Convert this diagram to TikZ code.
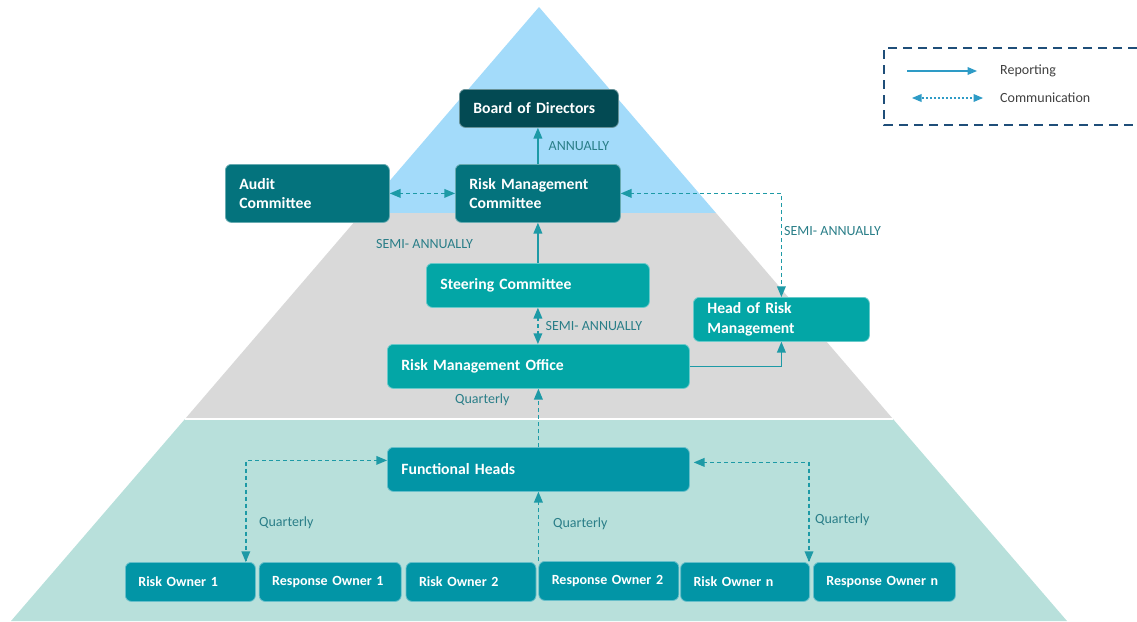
\documentclass[tikz,border=0pt]{standalone}
\usepackage{fontspec}
\setmainfont{Carlito}
\usepackage{tikz}
\usetikzlibrary{arrows, positioning}
\definecolor{skyband}{HTML}{A3DBFA}
\definecolor{greyband}{HTML}{D9D9D9}
\definecolor{mintband}{HTML}{B8E0DB}
\definecolor{boardcol}{HTML}{034A53}
\definecolor{commcol}{HTML}{04737D}
\definecolor{officecol}{HTML}{03A6A6}
\definecolor{ownercol}{HTML}{0295A6}
\definecolor{linkcol}{HTML}{1D9AA6}
\definecolor{freqcol}{HTML}{2A7E88}
\definecolor{keyframe}{HTML}{1F4E79}
\definecolor{keyline}{HTML}{2E9BC6}
\tikzstyle{box} = [rectangle, rounded corners=6pt, text=white, align=left,
    inner xsep=14pt, inner ysep=0pt, anchor=north west, line width=0.8pt,
    font=\bfseries\fontsize{15.7}{19.5}\selectfont]
\tikzstyle{boardbox} = [box, fill=boardcol, draw=boardcol!60!white]
\tikzstyle{commbox} = [box, fill=commcol, draw=commcol!60!white]
\tikzstyle{officebox} = [box, fill=officecol, draw=officecol!60!white, minimum height=44pt]
\tikzstyle{funcbox} = [box, fill=ownercol, draw=ownercol!60!white, minimum height=44pt]
\tikzstyle{ownerbox} = [funcbox, minimum height=39pt, inner xsep=13pt,
    font=\bfseries\fontsize{14}{17}\selectfont]
\tikzstyle{freq} = [text=freqcol, inner sep=0pt, font=\fontsize{14}{16}\selectfont]
\tikzstyle{report} = [line width=1.5pt, draw=linkcol, ->, >=triangle 45]
\tikzstyle{comm} = [line width=1.5pt, draw=linkcol, dash pattern=on 4pt off 3pt, <->, >=triangle 45]
\tikzstyle{commone} = [comm, ->]
\tikzstyle{keytext} = [anchor=west, inner sep=0pt, text=black!75, font=\fontsize{14}{16}\selectfont]

\begin{document}
\begin{tikzpicture}[x=1pt, y=-1pt]
            \useasboundingbox (0,0) rectangle (1137,621);
            % pyramid
            \fill [skyband] (539,7) -- (716,213) -- (362,213) -- cycle;
            \fill [greyband] (362,213) -- (716,213) -- (893,419) -- (185,419) -- cycle;
            \fill [mintband] (185,419) -- (893,419) -- (1067,621) -- (11,621) -- cycle;
            \draw [white, line width=1.5pt] (185,419) -- (893,419);

            \node (bod) [boardbox, text width=131pt, minimum height=38pt] at (459,89) {Board of Directors};
            \node (audit) [commbox, text width=136pt, minimum height=58pt] at (225,164) {Audit\\Committee};
            \node (rmc) [commbox, text width=137pt, minimum height=58pt] at (455,164) {Risk Management\\Committee};
            \node (steer) [officebox, text width=195pt] at (426,263) {Steering Committee};
            \node (head) [officebox, text width=148pt] at (693,297) {Head of Risk\\Management};
            \node (rmo) [officebox, text width=274pt] at (387,344) {Risk Management Office};
            \node (fh) [funcbox, text width=274pt] at (387,447) {Functional Heads};

            \node (ro1) [ownerbox, text width=104pt] at (125,562) {Risk Owner 1};
            \node (rs1) [ownerbox, text width=116pt, right=3pt of ro1] {Response Owner 1};
            \node (ro2) [ownerbox, text width=104pt, right=4pt of rs1] {Risk Owner 2};
            \node (rs2) [ownerbox, text width=114pt, right=2pt of ro2, yshift=1pt] {Response Owner 2};
            \node (ron) [ownerbox, text width=103pt, right=1pt of rs2, yshift=-1pt] {Risk Owner n};
            \node (rsn) [ownerbox, text width=116pt, right=3pt of ron] {Response Owner n};

            \draw [report] (rmc.north) -- (rmc.north |- bod.south) node[midway, right, freq, xshift=10pt] {ANNUALLY};
            \draw [comm] (audit.east) -- (rmc.west);
            \draw [comm] (rmc.east) -| (head.north);
            \draw [report] (steer.north) -- (rmc.south);
            \draw [comm] (steer.south) -- (steer.south |- rmo.north) node[midway, right, freq, xshift=7pt] {SEMI- ANNUALLY};
            \draw [report] (rmo.east) -| (head.south);
            \draw [commone] (fh.north) -- (rmo.south);
            \draw [comm] ([yshift=9pt]fh.west) -| ([xshift=-10pt]ro1.north east);
            \draw [commone] (rs2.north west) -- (rs2.north west |- fh.south);
            \draw [comm, shorten <=4pt] ([yshift=7pt]fh.east) -| ([xshift=-1pt]ron.north east);

            \node (semiup) [freq, anchor=west] at (376,244) {SEMI- ANNUALLY};
            \node (semiright) [freq, anchor=west] at (784,231) {SEMI- ANNUALLY};
            \node (qoffice) [freq, anchor=west] at (455,400) {Quarterly};
            \node (qleft) [freq, anchor=west] at (259,523) {Quarterly};
            \node (qmid) [freq, anchor=west] at (553,524) {Quarterly};
            \node (qright) [freq, anchor=west] at (815,520) {Quarterly};

            % legend
            \draw [keyframe, line width=2.2pt, dash pattern=on 9pt off 6pt] (1137,48) -- (884,48) -- (884,125) -- (1137,125);
            \coordinate (repa) at (907,71);
            \coordinate (repb) at (977,71);
            \draw [line width=1.2pt, draw=keyline, ->, >=triangle 45] (repa) -- (repb);
            \node (reptext) [keytext] at (1000,71) {Reporting};
            \coordinate (coma) at (912,98);
            \coordinate (comb) at (983,98);
            \draw [line width=1.2pt, draw=keyline, dash pattern=on 2pt off 2pt, <->, >=triangle 45] (coma) -- (comb);
            \node (comtext) [keytext] at (1000,98) {Communication};
        \end{tikzpicture}
\end{document}
